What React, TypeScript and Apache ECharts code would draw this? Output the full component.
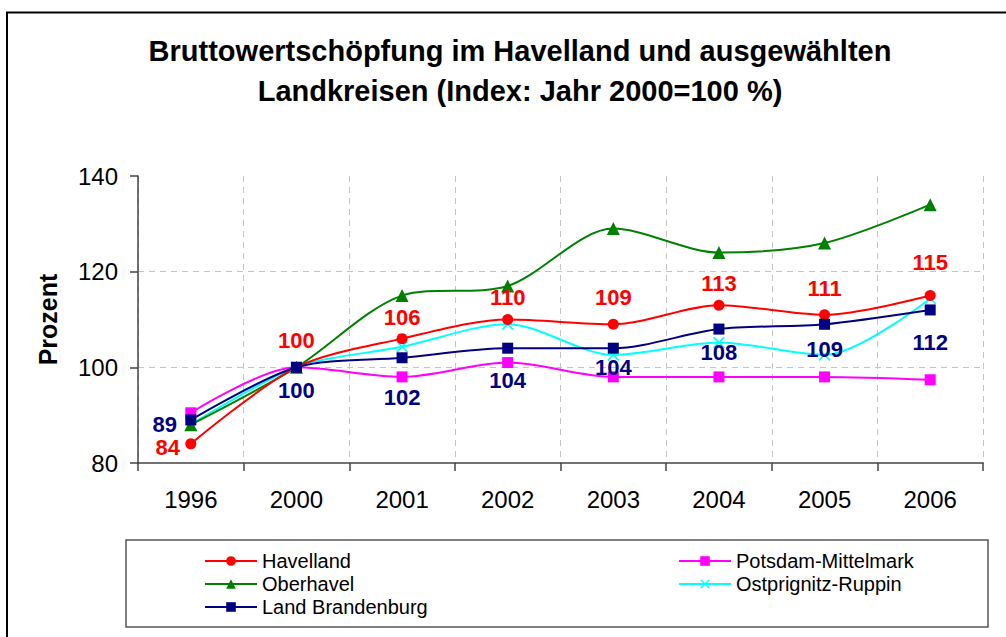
import React, { useEffect, useRef } from "react";
import * as echarts from "echarts";

const years = ["1996", "2000", "2001", "2002", "2003", "2004", "2005", "2006"];
const havelland = [84, 100, 106, 110, 109, 113, 111, 115];
const oberhavel = [88, 100, 115, 117, 129, 124, 126, 134];
const potsdamMittelmark = [90.5, 100, 98, 101, 98, 98, 98, 97.4];
const ostprignitzRuppin = [88, 100, 104.3, 109, 102.6, 105.2, 102.6, 114.4];
const landBrandenburg = [89, 100, 102, 104, 104, 108, 109, 112];
const yTicks = { min: 80, max: 140, interval: 20 };

const titleText = "Bruttowertschöpfung im Havelland und ausgewählten\nLandkreisen (Index: Jahr 2000=100 %)";

// label placement (style constants, offsets relative to each marker)
const havLabelOffsets = [[-23, 4], [0, -27], [0, -21], [0, -22], [0, -27], [0, -22], [0, -26], [0, -33]];
const brbLabelOffsets = [[-26, 5], [0, 23], [0, 40], [0, 32], [0, 19], [0, 23], [0, 25], [0, 33]];

const FONT = "'Liberation Sans', Arial, sans-serif";
const crossPath = "path://M0,1L1,0L5,4L9,0L10,1L6,5L10,9L9,10L5,6L1,10L0,9L4,5Z";

export default function App() {
  const ref = useRef<HTMLDivElement>(null);
  useEffect(() => {
    if (!ref.current) return;
    const chart = echarts.init(ref.current, null, { renderer: "svg" });

    const labeled = (vals: number[], offsets: number[][], color: string) =>
      vals.map((v, i) => ({
        value: v,
        label: {
          show: true,
          position: "inside",
          offset: offsets[i],
          color,
          fontFamily: FONT,
          fontWeight: "bold",
          fontSize: 22,
          formatter: () => String(Math.round(v)),
        },
      }));

    const base = (name: string, color: string) => ({
      name,
      type: "line",
      smooth: 0.3,
      lineStyle: { color, width: 2 },
      itemStyle: { color },
      label: { show: false },
    });

    const legendCommon = {
      orient: "vertical",
      top: 546,
      itemWidth: 52,
      itemHeight: 12,
      itemGap: 3,
      textStyle: { fontFamily: FONT, fontSize: 20, color: "#000", lineHeight: 20 },
    };

    chart.setOption({
      animation: false,
      backgroundColor: "#fff",
      title: {
        text: titleText,
        left: 515,
        top: 26,
        textAlign: "center",
        textStyle: { fontFamily: FONT, fontWeight: "bold", fontSize: 29, lineHeight: 40, color: "#000" },
      },
      grid: { left: 138, right: 23, top: 176, bottom: 174, containLabel: false },
      xAxis: {
        type: "category",
        data: years,
        boundaryGap: true,
        axisLine: { lineStyle: { color: "#444", width: 1.5 } },
        axisTick: { show: true, length: 8, lineStyle: { color: "#444", width: 1.5 } },
        axisLabel: { fontFamily: FONT, fontSize: 24, color: "#000", margin: 24 },
        splitLine: { show: true, interval: 0, lineStyle: { color: "#c4c4c4", type: [6, 5], width: 1 } },
      },
      yAxis: {
        type: "value",
        min: yTicks.min,
        max: yTicks.max,
        interval: yTicks.interval,
        name: "Prozent",
        nameLocation: "middle",
        nameRotate: 90,
        nameGap: 78,
        nameTextStyle: { fontFamily: FONT, fontWeight: "bold", fontSize: 25, color: "#000" },
        axisLine: { show: true, lineStyle: { color: "#444", width: 1.5 } },
        axisTick: { show: true, length: 8, lineStyle: { color: "#444", width: 1.5 } },
        axisLabel: { fontFamily: FONT, fontSize: 24, color: "#000", margin: 20 },
        splitLine: { show: true, lineStyle: { color: ["transparent", "#c4c4c4", "#c4c4c4", "transparent"], type: [6, 5], width: 1 } },
      },
      legend: [
        { ...legendCommon, data: ["Havelland", "Oberhavel", "Land Brandenburg"], left: 199 },
        { ...legendCommon, data: ["Potsdam-Mittelmark", "Ostprignitz-Ruppin"], left: 673 },
      ],
      graphic: [
        {
          type: "polyline",
          shape: { points: [[7, 637], [7, 12.5], [1006, 12.5]] },
          style: { stroke: "#000", lineWidth: 2, fill: "none" },
          silent: true,
        },
        {
          type: "rect",
          shape: { x: 126, y: 540, width: 862, height: 87 },
          style: { stroke: "#555", lineWidth: 1.5, fill: "none" },
          silent: true,
          z: -1,
        },
      ],
      series: [
        { ...base("Potsdam-Mittelmark", "#ff00ff"), symbol: "rect", symbolSize: 11, data: potsdamMittelmark },
        { ...base("Ostprignitz-Ruppin", "#00ffff"), symbol: crossPath, symbolSize: 12, data: ostprignitzRuppin },
        { ...base("Oberhavel", "#008000"), symbol: "triangle", symbolSize: 13, data: oberhavel },
        { ...base("Havelland", "#ff0000"), symbol: "circle", symbolSize: 11, data: labeled(havelland, havLabelOffsets, "#ff0000") },
        { ...base("Land Brandenburg", "#000080"), symbol: "rect", symbolSize: 11, data: labeled(landBrandenburg, brbLabelOffsets, "#000080") },
      ],
    });
    return () => chart.dispose();
  }, []);
  return <div ref={ref} style={{ position: "absolute", left: 0, top: 0, width: 1006, height: 637 }} />;
}
